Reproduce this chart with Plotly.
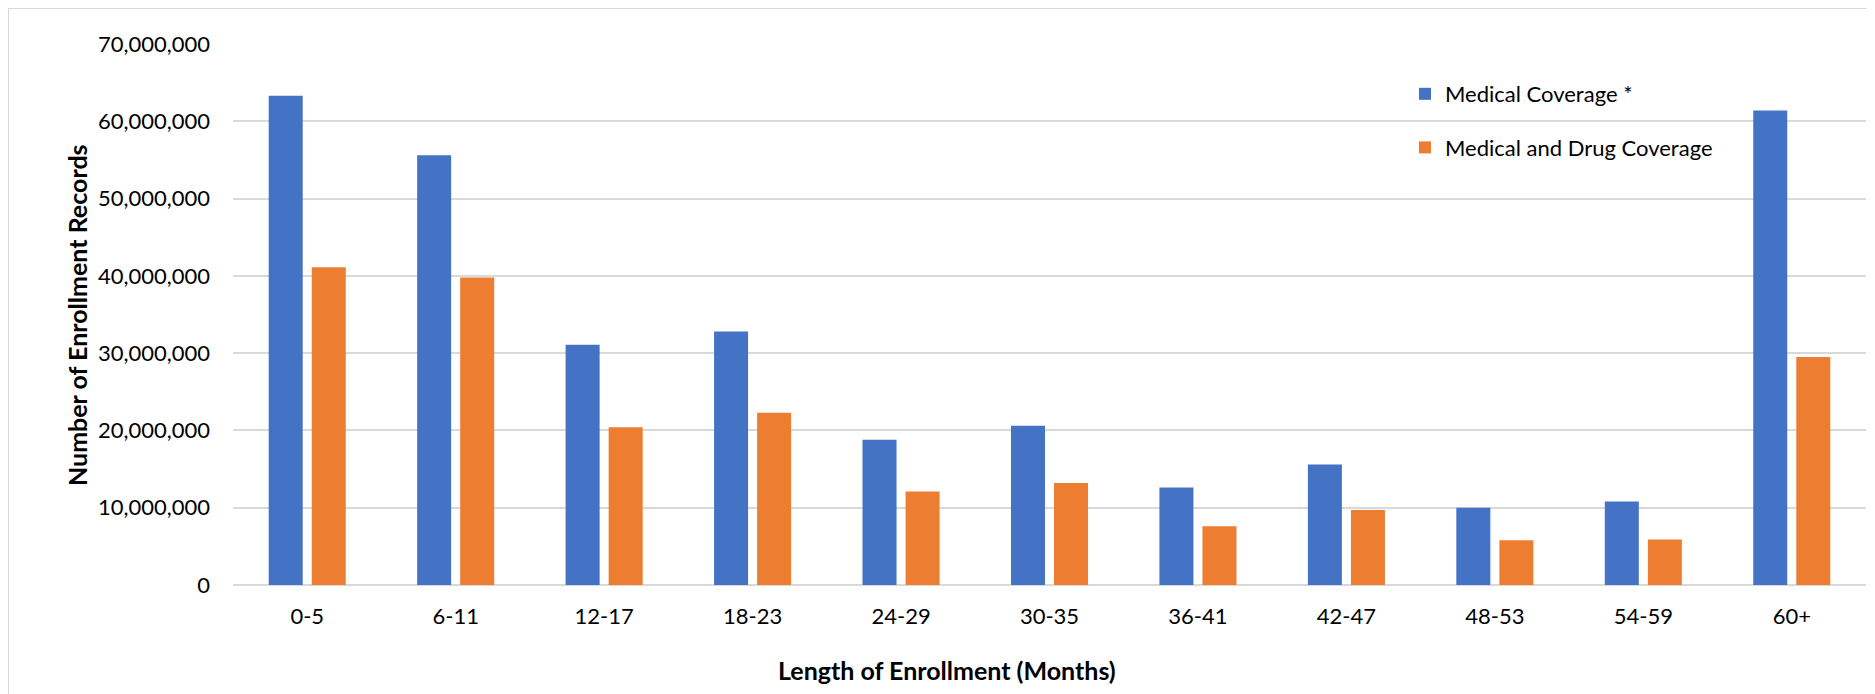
import plotly.graph_objects as go

categories = ["0-5", "6-11", "12-17", "18-23", "24-29", "30-35", "36-41", "42-47", "48-53", "54-59", "60+"]
medical = [63300000, 55600000, 31100000, 32800000, 18800000, 20600000, 12600000, 15600000, 10000000, 10800000, 61400000]
medical_drug = [41100000, 39800000, 20400000, 22300000, 12100000, 13200000, 7600000, 9700000, 5800000, 5900000, 29500000]
y_ticks = [0, 10000000, 20000000, 30000000, 40000000, 50000000, 60000000, 70000000]

OFF = 8  # page body margin
W, H = 1875 - OFF, 694 - OFF
# plot area in absolute page pixels: x 233..1866, y 44..585
L, R, T, B = 233 - OFF, 1875 - 1866, 44 - OFF, 694 - 585
PW, PH = W - L - R, H - T - B

def px(x):
    return (x - OFF - L) / PW

def py(y):
    return (H - B - (y - OFF)) / PH

FONT = "Lato"

fig = go.Figure()
fig.add_trace(go.Bar(x=categories, y=medical, name="Medical Coverage *",
                     marker=dict(color="#4472C4", line=dict(width=0)), legendgroup="a"))
fig.add_trace(go.Bar(x=categories, y=medical_drug, name="Medical and Drug Coverage",
                     marker=dict(color="#ED7D31", line=dict(width=0)), legendgroup="b"))

fig.update_layout(
    width=W, height=H, autosize=False,
    margin=dict(l=L, r=R, t=T, b=B, pad=0),
    paper_bgcolor="white", plot_bgcolor="white",
    barmode="group", bargap=0.42, bargroupgap=0.21,
    font=dict(family=FONT, size=22, color="#000000"),
    legend=dict(x=px(1405), y=py(73), xanchor="left", yanchor="top",
                bgcolor="rgba(0,0,0,0)", font=dict(family=FONT, size=22, color="#000000"),
                tracegroupgap=22, traceorder="grouped", itemwidth=30),
    xaxis=dict(showgrid=False, showline=False, zeroline=False, ticks="",
               tickfont=dict(family=FONT, size=22, color="#000000"), ticklabelstandoff=16),
    yaxis=dict(range=[0, 70000000], tickvals=y_ticks, tickformat=",",
               showgrid=True, gridcolor="#D9D9D9", gridwidth=1.5,
               zeroline=True, zerolinecolor="#D9D9D9", zerolinewidth=1.5,
               showline=False, ticks="", ticklabelstandoff=22,
               tickfont=dict(family=FONT, size=22, color="#000000")),
    annotations=[
        dict(text="<b>Number of Enrollment Records</b>", xref="paper", yref="paper",
             x=px(77), y=py(315), textangle=-90, showarrow=False,
             font=dict(family=FONT, size=25, color="#000000"), xanchor="center", yanchor="middle"),
        dict(text="<b>Length of Enrollment (Months)</b>", xref="paper", yref="paper",
             x=px(947), y=py(670), showarrow=False,
             font=dict(family=FONT, size=25, color="#000000"), xanchor="center", yanchor="middle"),
    ],
    shapes=[
        dict(type="rect", xref="paper", yref="paper",
             x0=px(8), x1=px(1900), y0=py(8), y1=py(720),
             line=dict(color="#D9D9D9", width=2), fillcolor="rgba(0,0,0,0)", layer="below"),
    ],
)

fig.write_html("out.html")
